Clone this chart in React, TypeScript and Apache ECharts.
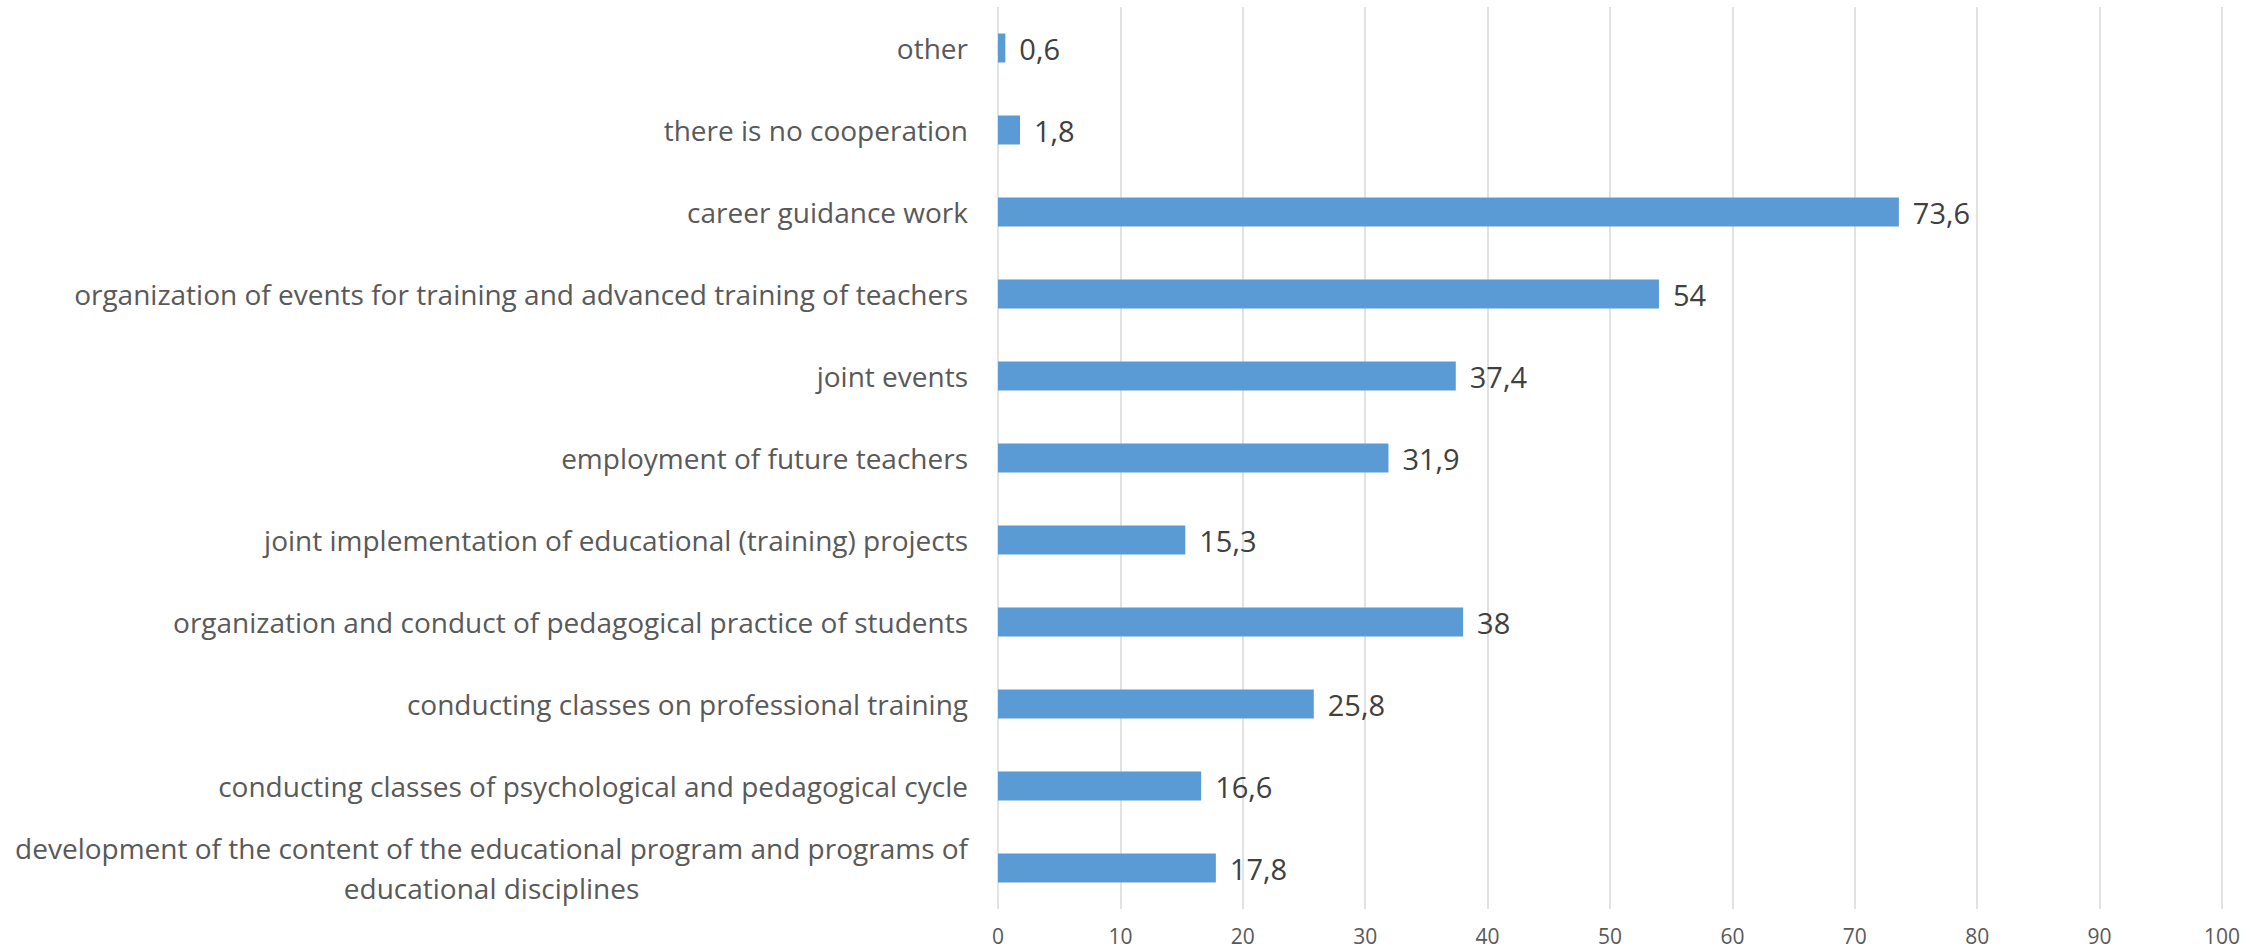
import React, { useEffect, useRef } from "react";
import * as echarts from "echarts";

const categories: string[] = [
  "development of the content of the educational program and programs of\neducational disciplines",
  "conducting classes of psychological and pedagogical cycle",
  "conducting classes on professional training",
  "organization and conduct of pedagogical practice of students",
  "joint implementation of educational (training) projects",
  "employment of future teachers",
  "joint events",
  "organization of events for training and advanced training of teachers",
  "career guidance work",
  "there is no cooperation",
  "other",
];

const values: number[] = [17.8, 16.6, 25.8, 38, 15.3, 31.9, 37.4, 54, 73.6, 1.8, 0.6];

const xTicks = { min: 0, max: 100, interval: 10 };

const FONT = "'Open Sans', sans-serif";

export default function App() {
  const ref = useRef<HTMLDivElement>(null);
  useEffect(() => {
    document.body.style.margin = "0";
    const chart = echarts.init(ref.current!, null, { renderer: "svg" });
    chart.setOption({
      animation: false,
      backgroundColor: "#ffffff",
      grid: { left: 998, right: 45, top: 7, bottom: 42, containLabel: false },
      xAxis: {
        type: "value",
        min: xTicks.min,
        max: xTicks.max,
        interval: xTicks.interval,
        axisLine: { show: false },
        axisTick: { show: false },
        splitLine: { show: true, lineStyle: { color: "#D9D9D9", width: 1.5 } },
        axisLabel: { color: "#595959", fontSize: 21, fontFamily: FONT, margin: 16 },
      },
      yAxis: {
        type: "category",
        data: categories,
        axisLine: { show: false },
        axisTick: { show: false },
        axisLabel: {
          margin: 30,
          formatter: (v: string) =>
            v
              .split("\n")
              .map((s) => `{c|${s}}`)
              .join("\n"),
          rich: {
            c: {
              align: "center",
              color: "#595959",
              fontSize: 28,
              fontFamily: FONT,
              lineHeight: 40,
            },
          },
        },
      },
      series: [
        {
          type: "bar",
          data: values,
          barWidth: 29,
          itemStyle: { color: "#5B9BD5" },
          label: {
            show: true,
            position: "right",
            distance: 14,
            color: "#404040",
            fontSize: 29,
            fontFamily: FONT,
            formatter: (p: any) => String(p.value).replace(".", ","),
          },
        },
      ],
    });
    return () => chart.dispose();
  }, []);
  return (
    <div
      ref={ref}
      style={{ position: "absolute", left: 0, top: 0, width: 2267, height: 951 }}
    />
  );
}
